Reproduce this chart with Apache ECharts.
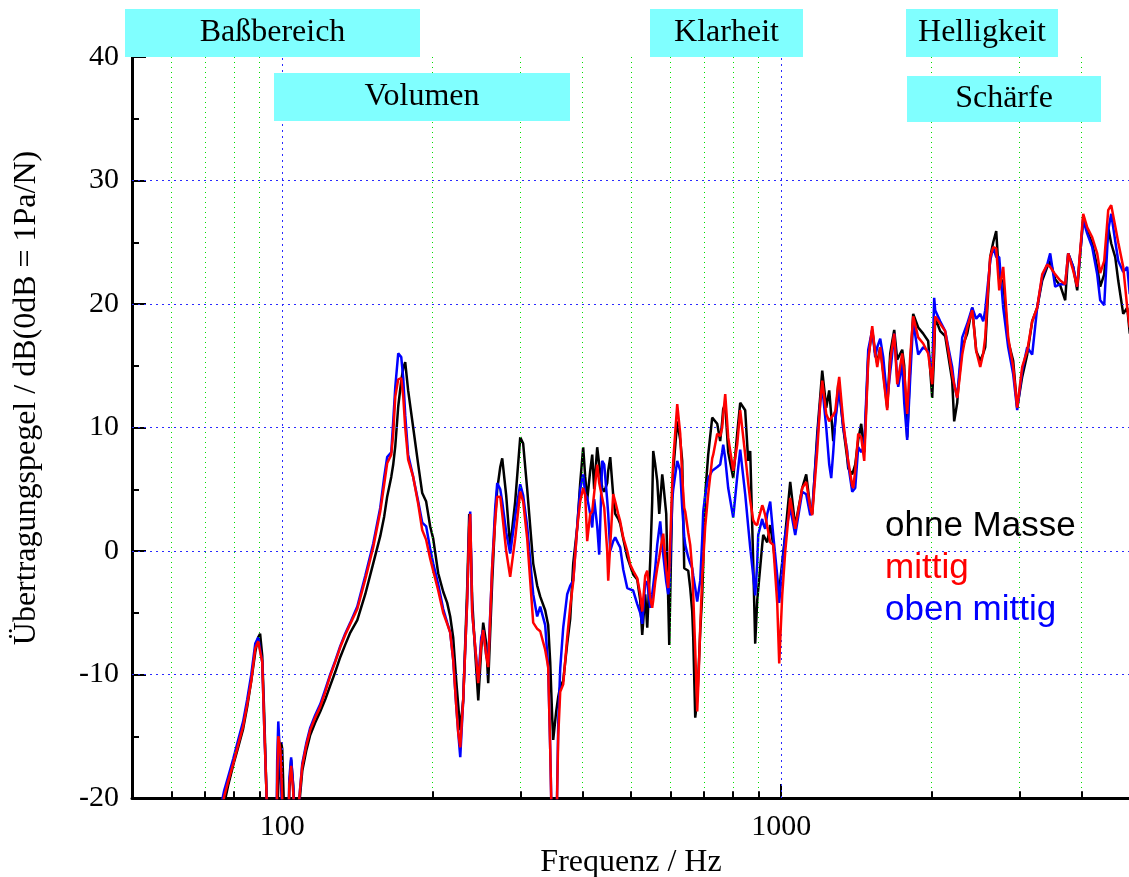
<!DOCTYPE html>
<html>
<head>
<meta charset="utf-8">
<title>Übertragungspegel</title>
<script src="https://cdn.jsdelivr.net/npm/echarts@6/dist/echarts.min.js"></script>
<style>
  html, body { margin: 0; padding: 0; background: #fff; }
  #main { width: 1129px; height: 877px; }
</style>
</head>
<body>
<div id="main"></div>
<script>
// Frequenz in Hz (gemeinsames Raster fuer alle drei Messungen)
var freq = [
  73.4, 75.1, 76.5, 77.9, 79.8, 81.6, 83.5, 85.1, 86.7, 88.3,
  89.5, 90.3, 91.2, 92.0, 92.9, 93.7, 97.3, 97.7, 98.2, 99.1,
  99.5, 100.0, 100.5, 101.4, 102.8, 103.3, 104.2, 105.2, 106.2, 107.2,
  108.2, 109.7, 111.7, 113.8, 116.4, 119.2, 122.0, 124.8, 127.7, 130.7,
  133.7, 136.9, 141.4, 146.7, 152.2, 157.2, 160.1, 162.3, 165.4, 166.9,
  168.5, 170.8, 173.2, 174.8, 176.4, 178.8, 183.0, 187.3, 190.8, 194.3,
  197.9, 200.7, 205.4, 210.2, 214.1, 217.1, 220.1, 223.2, 225.3, 227.4,
  230.5, 234.8, 237.0, 238.1, 240.3, 243.7, 247.1, 250.5, 252.8, 256.4,
  258.7, 263.5, 267.2, 269.7, 273.5, 276.0, 281.1, 286.3, 293.0, 299.9,
  304.0, 309.7, 318.4, 324.3, 328.9, 336.5, 341.2, 344.4, 347.6, 349.2,
  354.0, 357.4, 360.7, 365.7, 372.5, 377.7, 383.0, 390.1, 395.5, 401.0,
  404.8, 408.5, 414.2, 418.1, 421.9, 427.8, 431.8, 437.8, 441.9, 448.0,
  450.1, 454.3, 460.6, 464.9, 471.4, 475.7, 482.4, 491.4, 498.2, 505.1,
  514.6, 521.7, 526.6, 533.9, 538.9, 546.4, 551.4, 554.0, 559.1, 564.3,
  569.6, 572.2, 577.5, 580.2, 588.3, 593.7, 596.5, 604.8, 607.6, 618.9,
  627.5, 633.3, 639.2, 642.2, 651.1, 657.1, 663.2, 666.3, 672.5, 678.7,
  681.9, 688.2, 694.6, 697.8, 704.2, 714.0, 727.3, 730.7, 744.3, 754.6,
  761.6, 765.2, 772.3, 783.0, 801.3, 816.2, 827.6, 846.9, 858.7, 866.7,
  878.8, 886.9, 895.2, 899.3, 916.1, 920.3, 928.8, 937.5, 950.5, 963.8,
  981.7, 990.8, 1004.6, 1018.6, 1042.4, 1066.8, 1101.8, 1122.3, 1143.3, 1153.9,
  1180.8, 1197.2, 1208.4, 1230.9, 1248.0, 1259.6, 1271.3, 1283.0, 1300.9, 1306.9,
  1331.3, 1356.1, 1362.4, 1387.8, 1394.2, 1407.1, 1426.7, 1446.6, 1466.8, 1494.1,
  1521.9, 1543.2, 1557.5, 1579.2, 1601.2, 1631.0, 1653.7, 1661.4, 1684.5, 1708.0,
  1715.9, 1747.9, 1764.1, 1788.4, 1813.3, 1838.6, 1881.5, 1925.4, 1970.3, 2007.0,
  2025.6, 2035.0, 2082.5, 2131.1, 2201.0, 2221.4, 2252.8, 2263.3, 2305.4, 2359.2,
  2414.3, 2459.2, 2505.1, 2540.0, 2563.5, 2599.2, 2623.3, 2659.9, 2697.0, 2734.6,
  2785.5, 2850.2, 2916.7, 2971.0, 3040.4, 3111.3, 3183.9, 3258.2, 3334.3, 3412.1,
  3459.7, 3540.4, 3623.4, 3707.9, 3759.7, 3847.4, 3919.0, 4029.0, 4104.1, 4199.9,
  4297.9, 4357.8, 4439.0, 4521.9, 4585.0, 4670.4, 4735.5, 4846.0, 4936.3, 4995.0
];

// Pegel in dB, ohne Masse (schwarz)
var ohneMasse = [
  -24, -22, -20.5, -19.0, -17.3, -15.9, -14.4, -12.6, -10.5, -8.2,
  -7.0, -6.7, -8.5, -13, -19, -24, -24, -22, -19, -16.5,
  -15.5, -16.0, -19, -24, -24, -19.5, -16.9, -19, -23, -24,
  -20.5, -17.8, -16.2, -14.9, -13.9, -13.0, -12.0, -10.9, -9.8, -8.6,
  -7.6, -6.6, -5.6, -3.5, -1.0, 1.2, 2.8, 4.4, 6.0, 7.0,
  8.5, 11.7, 13.8, 14.8, 15.3, 13.0, 10.0, 7.0, 4.7, 4.0,
  2.0, 1.0, -1.8, -3.3, -4.2, -5.3, -7.0, -10.5, -12.5, -14.5,
  -12.1, -3.0, 3.0, 2.0, -4.0, -8.3, -12.1, -8.0, -5.8, -7.5,
  -10.7, -2.5, 2.8, 5.0, 6.8, 7.5, 4.5, 0.3, 4.0, 9.2,
  8.7, 5.0, -1.0, -2.8, -3.7, -4.8, -6.0, -9.0, -13.5, -15.3,
  -13.0, -11.8, -11.0, -10.5, -7.5, -5.5, -1.0, 1.9, 5.5, 8.4,
  6.0, 4.1, 6.5, 7.8, 5.0, 8.4, 7.0, 5.1, 4.8, 5.5,
  6.5, 7.6, 4.5, 3.0, 2.6, 2.2, 1.0, -0.5, -1.2, -1.9,
  -2.3, -4.0, -6.8, -3.5, -6.2, -0.8, 4.0, 8.1, 7.0, 5.7,
  3.0, 4.0, 6.2, 5.5, 3.0, -4.0, -7.6, 4.6, 6.5, 10.5,
  9.0, 7.3, -1.4, -1.3, -1.6, -3.0, -4.9, -7.0, -13.5, -12.0,
  -10.3, -6.5, -3.5, -1.0, 4.6, 7.8, 10.8, 10.8, 10.3, 8.9,
  10.5, 11.5, 11.9, 8.0, 5.9, 9.5, 12.0, 11.4, 7.3, 8.1,
  -0.9, -7.5, -4.0, -3.1, 0.5, 1.3, 1.0, 0.7, 2.1, 0.5,
  -2.5, -3.2, -0.9, 1.3, 5.6, 2.0, 5.1, 6.2, 3.5, 3.0,
  9.5, 12.5, 14.6, 11.6, 13.0, 11.0, 8.9, 10.5, 13.5, 13.0,
  10.0, 7.5, 6.7, 6.2, 6.2, 7.0, 9.0, 10.3, 8.0, 15.7,
  17.9, 16.0, 15.2, 16.5, 14.5, 11.6, 16.0, 16.5, 17.9, 15.5,
  15.5, 16.3, 15.0, 9.2, 15.0, 19.2, 18.1, 17.6, 17.0, 12.4,
  16.0, 18.9, 17.8, 17.4, 13.8, 10.5, 12.0, 13.2, 16.5, 17.6,
  19.7, 16.2, 15.4, 16.0, 16.5, 21.0, 23.8, 25.0, 25.9, 21.9,
  21.9, 17.0, 15.4, 11.6, 14.1, 15.9, 18.6, 19.7, 21.9, 23.0,
  23.5, 22.0, 21.5, 20.3, 24.1, 23.0, 21.1, 27.0, 25.9, 24.9,
  23.0, 21.4, 22.4, 26.2, 24.9, 23.8, 21.9, 19.2, 19.7, 17.6
];

// Pegel in dB, Masse mittig (rot)
var mittig = [
  -24, -21.5, -19.9, -18.7, -17.2, -15.7, -14.2, -12.4, -10.5, -7.9,
  -7.3, -7.3, -9.0, -14, -19, -24, -24, -19, -15.0, -16.0,
  -17.5, -20, -23, -24, -24, -19, -17.4, -19.5, -23, -24,
  -20, -17.4, -15.8, -14.5, -13.5, -12.6, -11.4, -10.1, -9.0, -7.8,
  -6.8, -5.9, -4.7, -2.3, 0.3, 3.2, 5.4, 7.1, 7.8, 9.5,
  12.5, 13.9, 14.0, 12.5, 10.0, 7.4, 6.0, 3.8, 1.7, 0.9,
  -0.6, -1.6, -3.2, -5.0, -5.9, -6.6, -8.8, -12.5, -14.7, -15.9,
  -12.1, -4.0, 2.0, 3.0, -5.0, -7.8, -10.7, -7.5, -6.4, -8.5,
  -9.4, -1.3, 2.5, 4.4, 4.4, 3.0, 0.0, -2.1, 1.0, 4.8,
  4.0, 1.0, -5.8, -6.3, -6.5, -8.0, -9.4, -16, -24, -24,
  -24, -15, -11.4, -10.8, -7.0, -4.5, -2.5, 1.9, 4.0, 5.1,
  4.5, 0.8, 3.0, 3.2, 3.3, 7.0, 5.5, 4.3, 3.5, 0.0,
  -2.4, 0.5, 4.6, 4.0, 3.0, 2.4, 1.1, 0.0, -1.1, -1.6,
  -2.2, -3.5, -4.9, -2.0, -1.6, -3.8, -4.6, -4.0, -2.5, -1.4,
  -0.5, 0.0, 1.0, 1.4, -1.5, -3.0, -1.5, 5.5, 7.3, 11.9,
  9.5, 6.0, 3.5, 3.2, 1.5, 0.5, -1.5, -3.5, -8.0, -13.0,
  -11.0, -6.2, -2.0, -0.8, 2.0, 4.6, 7.5, 7.8, 9.5, 9.3,
  10.0, 11.0, 12.7, 9.2, 6.5, 8.6, 11.4, 7.8, 5.5, 4.1,
  2.5, 2.2, 2.1, 2.5, 3.7, 3.5, 2.9, 2.0, 0.7, 0.5,
  -4.2, -9.1, -3.6, -0.1, 4.3, 1.8, 5.1, 5.6, 3.5, 2.9,
  8.1, 12.0, 13.8, 11.1, 10.5, 10.8, 11.0, 11.3, 13.5, 14.1,
  10.5, 7.8, 7.3, 5.3, 5.1, 6.5, 9.5, 9.2, 7.3, 15.4,
  18.2, 16.0, 14.9, 16.5, 14.2, 11.4, 15.4, 16.0, 17.6, 13.5,
  14.0, 16.0, 14.5, 11.1, 15.7, 19.0, 17.3, 16.8, 16.0, 13.5,
  17.0, 19.0, 18.4, 17.8, 14.3, 13.5, 12.4, 13.0, 15.9, 18.1,
  19.5, 16.2, 14.9, 16.0, 17.3, 21.5, 23.8, 24.6, 24.5, 21.1,
  23.0, 17.3, 14.9, 11.6, 14.9, 16.2, 18.6, 19.7, 22.4, 23.2,
  23.0, 22.4, 21.9, 21.6, 24.1, 22.7, 21.4, 27.3, 26.2, 25.4,
  24.1, 22.5, 23.5, 27.6, 28.0, 26.3, 25.0, 23.0, 19.7, 18.1
];

// Pegel in dB, Masse oben mittig (blau)
var obenMittig = [
  -24, -21, -19.4, -18.3, -16.8, -15.3, -13.8, -12.0, -10.0, -7.5,
  -7.0, -7.1, -9.0, -14, -19, -24, -24, -17, -13.8, -17,
  -19, -22, -24, -24, -24, -18.5, -16.7, -19, -23, -24,
  -20, -17.2, -15.6, -14.3, -13.3, -12.4, -11.2, -10.0, -8.9, -7.7,
  -6.7, -5.8, -4.5, -2.0, 0.6, 3.5, 6.0, 7.6, 8.0, 10.5,
  13.3, 16.0, 15.7, 14.0, 11.0, 7.8, 6.0, 4.0, 2.3, 2.0,
  0.2, -1.0, -2.7, -4.7, -5.8, -6.6, -8.8, -12.5, -14.7, -16.7,
  -12.1, -4.0, 2.0, 3.2, -5.0, -7.8, -10.5, -7.0, -6.4, -8.5,
  -9.0, -1.3, 3.5, 5.5, 5.0, 4.0, 1.5, -0.2, 2.8, 5.4,
  4.5, 2.0, -3.5, -5.3, -4.5, -6.0, -9.4, -16, -24, -24,
  -24, -14, -9.5, -6.2, -3.5, -2.8, -2.4, 2.0, 5.0, 6.2,
  4.6, 4.3, 3.0, 1.9, 4.2, 2.0, -0.3, 7.3, 7.0, 4.1,
  3.0, 0.0, 0.8, 1.1, 0.6, 0.3, -1.5, -3.0, -3.1, -3.2,
  -4.3, -5.0, -5.9, -2.5, -2.5, -4.6, -3.5, -2.8, -1.4, 0.5,
  1.8, 2.4, 0.5, -0.3, -2.5, -3.5, -3.0, 4.1, 5.0, 7.3,
  6.5, 3.5, 1.2, 0.5, -0.5, -1.0, -1.4, -2.0, -3.0, -4.1,
  -3.5, -2.4, 1.0, 3.2, 4.5, 5.9, 6.5, 6.6, 6.8, 7.0,
  8.0, 8.6, 7.5, 5.1, 2.7, 6.0, 8.2, 4.6, 2.0, 0.3,
  -2.0, -3.6, -1.0, 1.3, 2.6, 2.2, 1.8, 3.0, 4.0, 1.3,
  -2.0, -4.2, -1.4, 1.3, 3.5, 1.3, 4.8, 4.6, 2.9, 3.3,
  9.0, 12.0, 13.3, 10.0, 7.0, 5.9, 8.0, 10.5, 12.5, 13.3,
  10.0, 8.1, 7.0, 4.8, 4.8, 5.1, 8.4, 8.0, 8.5, 16.3,
  17.9, 15.7, 16.5, 17.2, 15.7, 12.2, 14.5, 15.2, 17.6, 14.0,
  13.3, 15.2, 12.0, 9.0, 14.0, 18.6, 15.9, 16.5, 16.2, 14.3,
  20.5, 19.5, 18.6, 17.8, 14.9, 13.5, 12.4, 13.5, 17.3, 18.4,
  19.7, 18.8, 19.2, 18.6, 19.5, 21.9, 23.5, 24.6, 23.8, 23.8,
  19.7, 16.5, 14.3, 11.4, 14.6, 16.5, 15.9, 19.7, 22.2, 23.2,
  24.1, 21.4, 21.6, 21.6, 24.1, 23.0, 21.4, 26.8, 25.7, 24.6,
  22.4, 20.3, 19.9, 26.0, 27.3, 25.1, 23.5, 22.6, 23.0, 20.8
];

// Hilfsgitter und Beschriftungen
var minorFreq = [60, 70, 80, 90, 200, 300, 400, 500, 600, 700, 800, 900, 2000, 3000, 4000];
var decadeFreq = [100, 1000];
var levelLines = [-10, 0, 10, 20, 30];
var bandNames = ['Baßbereich', 'Volumen', 'Klarheit', 'Helligkeit', 'Schärfe'];
var seriesNames = ['ohne Masse', 'mittig', 'oben mittig'];

var serif = '"Liberation Serif", "Times New Roman", serif';
var sans = '"Liberation Sans", Arial, sans-serif';

function pairs(vals) {
  return freq.map(function (f, i) { return [f, vals[i]]; });
}

// Gitterlinien + kleine Striche an der x-Achse
var gridLines = [];
minorFreq.forEach(function (f) {
  gridLines.push({ xAxis: f, lineStyle: { color: '#00e000', width: 1, type: [1, 4] } });
});
decadeFreq.forEach(function (f) {
  gridLines.push({ xAxis: f, lineStyle: { color: '#2a2aff', width: 1, type: [2, 4] } });
});
levelLines.forEach(function (v) {
  gridLines.push({ yAxis: v, lineStyle: { color: '#2a2aff', width: 1, type: [2, 4] } });
});
minorFreq.forEach(function (f) {
  gridLines.push([
    { coord: [f, -20], lineStyle: { color: '#000', width: 2, type: 'solid' } },
    { coord: [f, -19.45] }
  ]);
});

// Kaesten oben (Pixelgeometrie)
var boxGeom = [
  { x: 125, y: 9, w: 295, h: 48 },
  { x: 274, y: 73, w: 296, h: 48 },
  { x: 650, y: 9, w: 153, h: 48 },
  { x: 906, y: 9, w: 152, h: 48 },
  { x: 907, y: 76, w: 194, h: 46 }
];
var graphics = [];
boxGeom.forEach(function (b, i) {
  graphics.push({
    type: 'rect', z: 100,
    shape: { x: b.x, y: b.y, width: b.w, height: b.h },
    style: { fill: '#80ffff' }
  });
  graphics.push({
    type: 'text', z: 101,
    x: b.x + b.w / 2, y: b.y + b.h / 2,
    style: {
      text: bandNames[i], fill: '#000', font: '32px ' + serif,
      textAlign: 'center', textVerticalAlign: 'middle'
    }
  });
});
// Legende als Text
var legendColors = ['#000000', '#ff0000', '#0000ff'];
var legendY = [526, 568, 610];
seriesNames.forEach(function (n, i) {
  graphics.push({
    type: 'text', z: 101, x: 885, y: legendY[i],
    style: { text: n, fill: legendColors[i], font: '35px ' + sans, textAlign: 'left', textVerticalAlign: 'middle' }
  });
});
// y-Achsentitel
graphics.push({
  type: 'text', z: 101, x: 27, y: 398, rotation: Math.PI / 2,
  style: {
    text: 'Übertragungspegel / dB(0dB = 1Pa/N)', fill: '#000', font: '32px ' + serif,
    textAlign: 'center', textVerticalAlign: 'middle'
  }
});

var chart = echarts.init(document.getElementById('main'));
chart.setOption({
  animation: false,
  backgroundColor: '#ffffff',
  grid: { left: 132, top: 57, width: 998, height: 741, containLabel: false, outerBoundsMode: 'none' },
  xAxis: {
    type: 'log', logBase: 10, min: 50, max: 5000,
    name: 'Frequenz / Hz', nameLocation: 'middle', nameGap: 44,
    nameTextStyle: { fontFamily: serif, fontSize: 32, color: '#000' },
    axisLine: { onZero: false, lineStyle: { color: '#000', width: 3 } },
    axisTick: { inside: true, length: 14, lineStyle: { color: '#000', width: 2 } },
    splitLine: { show: false },
    axisLabel: {
      fontFamily: serif, fontSize: 30, color: '#000', margin: 14,
      showMinLabel: false, showMaxLabel: false,
      formatter: function (v) {
        var r = Math.round(v);
        return (r === 100 || r === 1000) ? String(r) : '';
      }
    }
  },
  yAxis: {
    type: 'value', min: -20, max: 40, interval: 10,
    axisLine: { show: true, onZero: false, lineStyle: { color: '#000', width: 3 } },
    axisTick: { show: true, inside: true, length: 14, lineStyle: { color: '#000', width: 2 } },
    minorTick: { show: true, splitNumber: 2, length: 7, lineStyle: { color: '#000', width: 2 } },
    splitLine: { show: false },
    axisLabel: { fontFamily: serif, fontSize: 30, color: '#000', margin: 13 }
  },
  graphic: graphics,
  series: [
    {
      name: 'gitter', type: 'line', z: 1, silent: true,
      data: [[50, -30]], showSymbol: false, lineStyle: { opacity: 0 },
      markLine: { silent: true, symbol: ['none', 'none'], label: { show: false }, data: gridLines }
    },
    {
      name: seriesNames[0], type: 'line', data: pairs(ohneMasse), z: 3,
      showSymbol: false, symbol: 'none', clip: true,
      lineStyle: { color: '#000000', width: 2.5 }
    },
    {
      name: seriesNames[2], type: 'line', data: pairs(obenMittig), z: 4,
      showSymbol: false, symbol: 'none', clip: true,
      lineStyle: { color: '#0000ff', width: 2.5 }
    },
    {
      name: seriesNames[1], type: 'line', data: pairs(mittig), z: 5,
      showSymbol: false, symbol: 'none', clip: true,
      lineStyle: { color: '#ff0000', width: 2.5 }
    }
  ]
});
</script>
</body>
</html>
